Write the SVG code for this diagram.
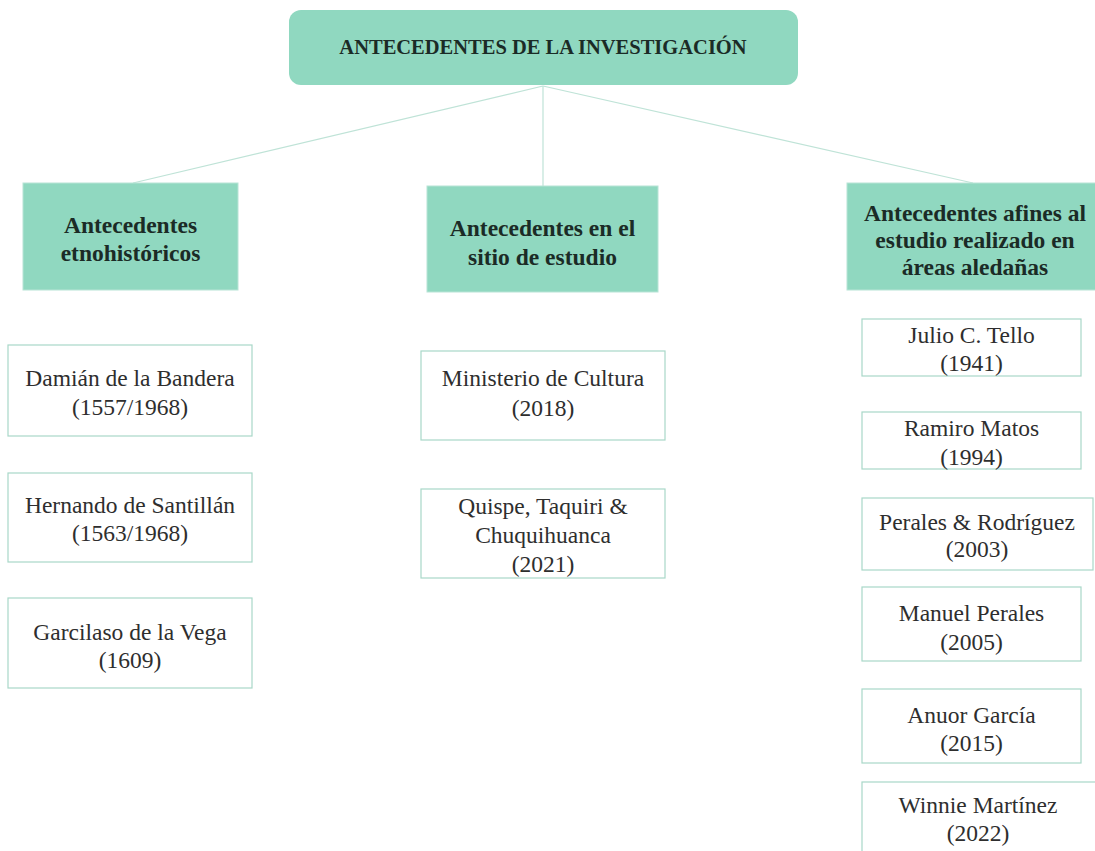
<svg xmlns="http://www.w3.org/2000/svg" width="1095" height="851" viewBox="0 0 1095 851">
<style>
.hdr{fill:#90d8c0}
.sub{fill:#90d8c0;stroke:#b8e4d6;stroke-width:1}
.box{fill:#ffffff;stroke:#a8d8c8;stroke-width:1.2}
.ht{font-family:"Liberation Serif",serif;font-weight:bold;font-size:20.5px;fill:#1b2b26;text-anchor:middle}
.st{font-family:"Liberation Serif",serif;font-weight:bold;font-size:23.5px;fill:#1b2b26;text-anchor:middle}
.bt{font-family:"Liberation Serif",serif;font-size:23.5px;fill:#2e2e2e;text-anchor:middle}
.con{stroke:#bfe3d7;stroke-width:1.2;fill:none}
</style>
<rect width="1095" height="851" fill="#ffffff"/>
<g id="connectors">
<line class="con" x1="543" y1="86" x2="133" y2="183"/>
<line class="con" x1="543" y1="86" x2="543" y2="186"/>
<line class="con" x1="543" y1="86" x2="973" y2="183"/>
</g>
<g id="root">
<rect class="hdr" x="289" y="10" width="509" height="75" rx="12"/>
<text class="ht" x="543" y="54">ANTECEDENTES DE LA INVESTIGACIÓN</text>
</g>
<g id="cat-etno">
<rect class="sub" x="23" y="183" width="215" height="107"/>
<text class="st" x="130.5" y="233">Antecedentes</text>
<text class="st" x="130.5" y="261">etnohistóricos</text>
</g>
<g id="cat-sitio">
<rect class="sub" x="427" y="186" width="231" height="106"/>
<text class="st" x="542.5" y="236">Antecedentes en el</text>
<text class="st" x="542.5" y="265">sitio de estudio</text>
</g>
<g id="cat-afines">
<rect class="sub" x="847" y="183" width="260" height="107"/>
<text class="st" x="975" y="221">Antecedentes afines al</text>
<text class="st" x="975" y="248">estudio realizado en</text>
<text class="st" x="975" y="275">áreas aledañas</text>
</g>
<g id="n-damian">
<rect class="box" x="8" y="345" width="244" height="91"/>
<text class="bt" x="130" y="386">Damián de la Bandera</text>
<text class="bt" x="130" y="415">(1557/1968)</text>
</g>
<g id="n-hernando">
<rect class="box" x="8" y="473" width="244" height="89"/>
<text class="bt" x="130" y="513">Hernando de Santillán</text>
<text class="bt" x="130" y="541">(1563/1968)</text>
</g>
<g id="n-garcilaso">
<rect class="box" x="8" y="598" width="244" height="90"/>
<text class="bt" x="130" y="640">Garcilaso de la Vega</text>
<text class="bt" x="130" y="668">(1609)</text>
</g>
<g id="n-ministerio">
<rect class="box" x="421" y="351" width="244" height="89"/>
<text class="bt" x="543" y="386">Ministerio de Cultura</text>
<text class="bt" x="543" y="416">(2018)</text>
</g>
<g id="n-quispe">
<rect class="box" x="421" y="489" width="244" height="89"/>
<text class="bt" x="543" y="514">Quispe, Taquiri &amp;</text>
<text class="bt" x="543" y="543">Chuquihuanca</text>
<text class="bt" x="543" y="572">(2021)</text>
</g>
<g id="n-tello">
<rect class="box" x="862" y="319" width="219" height="57"/>
<text class="bt" x="971.5" y="343">Julio C. Tello</text>
<text class="bt" x="971.5" y="371">(1941)</text>
</g>
<g id="n-matos">
<rect class="box" x="862" y="412" width="219" height="57"/>
<text class="bt" x="971.5" y="436">Ramiro Matos</text>
<text class="bt" x="971.5" y="465">(1994)</text>
</g>
<g id="n-perales-rodriguez">
<rect class="box" x="862" y="498" width="231" height="72"/>
<text class="bt" x="977" y="530">Perales &amp; Rodríguez</text>
<text class="bt" x="977" y="557">(2003)</text>
</g>
<g id="n-manuel">
<rect class="box" x="862" y="587" width="219" height="74"/>
<text class="bt" x="971.5" y="621">Manuel Perales</text>
<text class="bt" x="971.5" y="650">(2005)</text>
</g>
<g id="n-anuor">
<rect class="box" x="862" y="689" width="219" height="74"/>
<text class="bt" x="971.5" y="723">Anuor García</text>
<text class="bt" x="971.5" y="751">(2015)</text>
</g>
<g id="n-winnie">
<rect class="box" x="862" y="782" width="250" height="80"/>
<text class="bt" x="978" y="813">Winnie Martínez</text>
<text class="bt" x="978" y="841">(2022)</text>
</g>
</svg>
